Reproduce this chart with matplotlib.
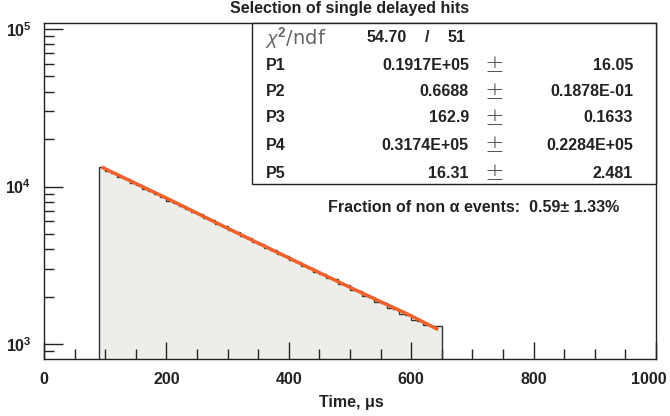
import numpy as np
import matplotlib
matplotlib.use("Agg")
import matplotlib.pyplot as plt
import matplotlib.transforms as mtransforms
from matplotlib.ticker import LogLocator, FixedLocator, NullFormatter, MultipleLocator, FuncFormatter
from matplotlib.patches import Rectangle

plt.rcParams['font.family'] = ['Liberation Sans', 'DejaVu Sans']
plt.rcParams['mathtext.fontset'] = 'custom'
plt.rcParams['mathtext.rm'] = 'Liberation Sans:bold'
plt.rcParams['mathtext.bf'] = 'Liberation Sans:bold'
plt.rcParams['mathtext.it'] = 'Liberation Sans:italic'

# ---- data ----
title = "Selection of single delayed hits"
xlabel = "Time, μs"
bin_start = 90
bin_width = 10
counts = [13300, 12600, 12150, 11550, 11150, 10600, 10250, 9700, 9380, 8900,
          8600, 8150, 7900, 7480, 7250, 6850, 6650, 6290, 6100, 5760,
          5600, 5290, 5130, 4840, 4700, 4440, 4320, 4070, 3960, 3730,
          3630, 3420, 3330, 3140, 3060, 2870, 2800, 2640, 2570, 2420,
          2360, 2210, 2160, 2030, 1980, 1860, 1820, 1700, 1670, 1560,
          1530, 1430, 1400, 1320, 1300, 1305]
fit_t = [94, 200, 300, 400, 500, 600, 644]
fit_v = [13280, 8450, 5430, 3520, 2290, 1510, 1235]
chi2_text = ["54.70", "/", "51"]
par_names = ["P1", "P2", "P3", "P4", "P5"]
par_vals = ["0.1917E+05", "0.6688", "162.9", "0.3174E+05", "16.31"]
par_errs = ["16.05", "0.1878E-01", "0.1633", "0.2284E+05", "2.481"]
fraction_text = "Fraction of non α events:  0.59± 1.33%"
x_ticks = [0, 200, 400, 600, 800, 1000]

FS = 11.5
W, H = 670, 416
fig = plt.figure(figsize=(W / 100, H / 100), dpi=100)
L, R, T, B = 44, 656, 23, 359
ax = fig.add_axes([L / W, 1 - B / H, (R - L) / W, (B - T) / H])

edges = bin_start + bin_width * np.arange(len(counts) + 1)
ax.stairs(counts, edges, baseline=1, fill=True, color="#EDEDE9", zorder=1)
ax.stairs(counts, edges, baseline=1, fill=False, color="#333333", lw=1.0, zorder=2)
ax.plot(fit_t, fit_v, color="#F0622B", lw=2.5, solid_capstyle="butt", zorder=3)

ax.set_yscale("log")
ax.set_xlim(0, 1000)
ax.set_ylim(10 ** 2.905, 10 ** 5.038)

ax.xaxis.set_major_locator(FixedLocator(x_ticks))
ax.xaxis.set_minor_locator(MultipleLocator(50))
ax.yaxis.set_major_locator(LogLocator(base=10, numticks=10))
ax.yaxis.set_major_formatter(FuncFormatter(lambda v, p: r"$\mathbf{10^{%d}}$" % round(np.log10(v))))
ax.yaxis.set_minor_locator(LogLocator(base=10, subs=np.arange(2, 10), numticks=20))
ax.yaxis.set_minor_formatter(NullFormatter())
ax.set_xticklabels([str(v) for v in x_ticks], fontweight="bold", fontsize=FS)
ax.tick_params(axis="x", which="major", direction="in", length=12, width=1, pad=9, colors="#222222")
ax.tick_params(axis="x", which="minor", direction="in", length=7, width=1, colors="#222222")
ax.tick_params(axis="y", which="major", direction="in", length=14, width=1, pad=9, colors="#222222", labelsize=FS)
ax.tick_params(axis="y", which="minor", direction="in", length=7, width=1, colors="#222222")
ax.tick_params(top=False, right=False, which="both")
for s in ax.spines.values():
    s.set_color("#222222")
    s.set_linewidth(1.0)

# nudge the last x label so it stays inside the figure, as in the reference
lab = ax.get_xticklabels()[-1]
lab.set_transform(lab.get_transform() + mtransforms.ScaledTranslation(-7 / 100, 0, fig.dpi_scale_trans))

fig.text(350 / W, 1 - 9 / H, title, ha="center", va="center", fontsize=FS, fontweight="bold", color="#222222")
fig.text(351 / W, 1 - 402 / H, xlabel, ha="center", va="center", fontsize=FS, fontweight="bold", color="#222222")

# stats box
bx0, by0, bx1, by1 = 252, 23, 656, 184
fig.patches.append(Rectangle((bx0 / W, 1 - by1 / H), (bx1 - bx0) / W, (by1 - by0) / H,
                             transform=fig.transFigure, facecolor="white", edgecolor="#222222",
                             lw=1.0, zorder=5))
def ft(x, y, s, **kw):
    kw.setdefault("fontsize", FS)
    kw.setdefault("fontweight", "bold")
    kw.setdefault("color", "#222222")
    fig.text(x / W, 1 - y / H, s, va="center", zorder=6, **kw)

ft(265, 38, r"$\chi^2$/ndf", fontsize=14, fontweight="normal", color="#666666", ha="left",
   family=["DejaVu Sans"])
ft(407, 37, chi2_text[0], ha="right")
ft(427, 37, chi2_text[1], ha="center")
ft(466, 37, chi2_text[2], ha="right")
rows_y = [65, 92, 118, 145, 173]
for yy, n, v, e in zip(rows_y, par_names, par_vals, par_errs):
    ft(266, yy, n, ha="left")
    ft(469, yy, v, ha="right")
    ft(494, yy, "±", ha="center", fontsize=17, fontweight="light", color="#555555",
       family=["DejaVu Sans"])
    ft(633, yy, e, ha="right")

ft(328, 207, fraction_text, ha="left")

fig.savefig("out.png", dpi=100)
